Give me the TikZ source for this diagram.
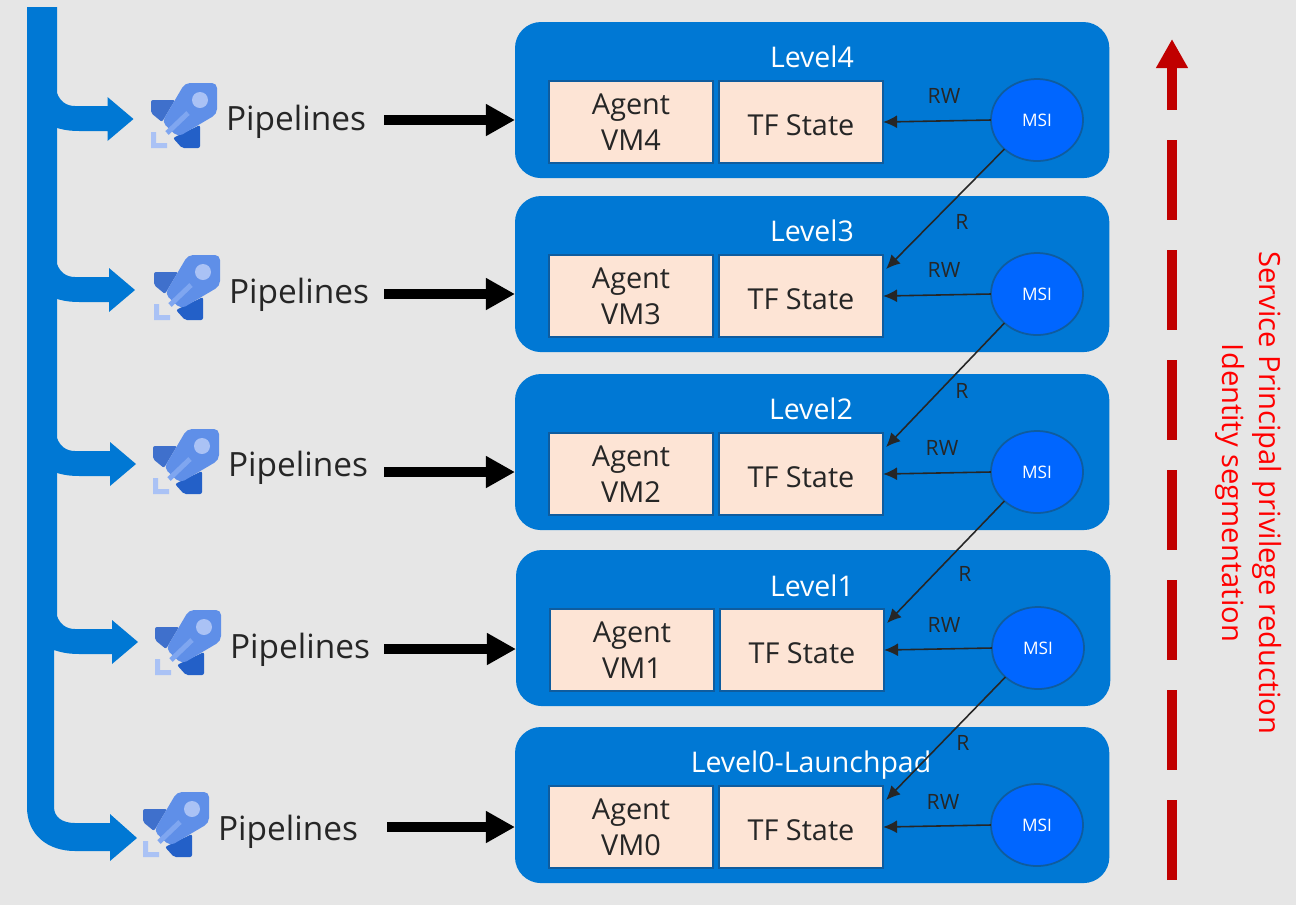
\documentclass[tikz,border=0pt]{standalone}
\usepackage{fontspec}
\setmainfont{Open Sans}
\usepackage{xcolor}
\usetikzlibrary{arrows.meta,shapes.geometric}

\definecolor{pagegray}{HTML}{E6E6E6}
\definecolor{azureblue}{HTML}{0078D4}
\definecolor{msiblue}{HTML}{0066FF}
\definecolor{edgeblue}{HTML}{0F5C9E}
\definecolor{agentfill}{HTML}{FDE4D5}
\definecolor{darkred}{HTML}{C00000}
\definecolor{rocketmid}{HTML}{3F70CC}
\definecolor{rocketdark}{HTML}{2360C8}
\definecolor{rocketbody}{HTML}{5F8FE8}
\definecolor{rocketlight}{HTML}{AAC2F5}
\definecolor{rocketstripe}{HTML}{7FA6F0}

\tikzset{
  levelbox/.style={fill=azureblue,rounded corners=0.26cm,outer sep=0pt,minimum width=5.94cm,minimum height=1.56cm,anchor=north west},
  vmbox/.style={draw=edgeblue,line width=0.5pt,fill=agentfill,outer sep=0pt,minimum width=1.64cm,minimum height=0.82cm,anchor=north west,align=center,text=black!85,font=\fontsize{8.2pt}{10.3pt}\selectfont},
  msinode/.style={ellipse,draw=edgeblue,line width=0.5pt,fill=msiblue,outer sep=0pt,minimum width=0.92cm,minimum height=0.82cm,inner sep=0pt,text=white,font=\fontsize{4.9pt}{5pt}\selectfont},
  accessarrow/.style={-{Latex[length=0.14cm,width=0.13cm]},line width=0.45pt,black!85},
  accesslabel/.style={text=black!85,font=\fontsize{6pt}{6.5pt}\selectfont},
  flowarrow/.style={-{Triangle[length=0.29cm,width=0.3cm]},line width=0.1cm,black},
  rocketicon/.pic={
    \fill[rocketmid,rounded corners=0.02cm] (0,16) -- (24,16) -- (11,38) -- (0,29) -- cycle;
    \fill[rocketdark,rounded corners=0.02cm] (49,41) -- (49,64) -- (31,64) -- (22,54) -- cycle;
    \fill[rocketbody,rounded corners=0.05cm] (34,-1) -- (66,-1) -- (66,30) -- (27,53) -- (11,38) -- cycle;
    \fill[rocketlight] (49,16) circle (8);
    \draw[rocketstripe,line width=0.05cm] (37,29) -- (16,49);
    \fill[rocketlight] (0,48) -- (5,48) -- (5,59) -- (16,59) -- (16,64) -- (0,64) -- cycle;
  }
}

\begin{document}
\begin{tikzpicture}[x=0.01cm,y=-0.01cm]
  \useasboundingbox[fill=pagegray] (0,0) rectangle (1296,905);
  % trunk and bottom bend
  \fill[azureblue] (27,7) -- (57,7) -- (57,650) -- (54,650) -- (54,807)
    .. controls (54,817) and (62,823) .. (75,823) -- (110,823) -- (110,814) -- (137,838) -- (110,861) -- (110,851) -- (75,851)
    .. controls (48,851) and (27,835) .. (27,807) -- cycle;
  % branches to the upper pipelines
  \foreach \ay/\tipx in {119/133.5,290/135,464/136,642/138}
    \fill[azureblue] (50,\ay-32) -- (57,\ay-26) .. controls (60,\ay-18) and (66,\ay-13) .. (75,\ay-13)
      -- (\tipx-26,\ay-13) -- (\tipx-26,\ay-22) -- (\tipx,\ay) -- (\tipx-26,\ay+22) -- (\tipx-26,\ay+12)
      -- (80,\ay+12) .. controls (70,\ay+12) and (63,\ay+11) .. (54,\ay+8) -- (50,\ay+8) -- cycle;

  \foreach \n/\bx/\by/\title/\lx/\ly/\rwx/\rwy in {
      4/515/22/Level4/812/57/944/96,
      3/515/196/Level3/812/231/944/270,
      2/515/374/Level2/811/409/942/448,
      1/516/550/Level1/812/586/944/625,
      0/515/727/Level0-Launchpad/811/762/943/802} {
    \node[levelbox] (level\n) at (\bx,\by) {};
    \node[text=white,text depth=0pt,font=\fontsize{8.1pt}{9pt}\selectfont] (title\n) at (\lx,\ly) {\title};
    \node[vmbox] (agent\n) at (\bx+34,\by+59) {Agent\\VM\n};
    \node[vmbox,text height=7.6pt,text depth=0pt] (tf\n) at (\bx+204,\by+59) {TF State};
    \node[msinode] (msi\n) at (\bx+522,\by+98) {MSI};
    \draw[accessarrow] (msi\n.west) -- (tf\n.east);
    \node[accesslabel] (rw\n) at (\rwx,\rwy) {RW};
  }

  % read access goes down one level
  \foreach \n/\m/\rx/\ry in {4/3/962/222,3/2/962/391,2/1/965/574,1/0/963/743} {
    \draw[accessarrow] (msi\n.south west) -- ([shift={(3,14)}]tf\m.north east);
    \node[accesslabel] (r\n) at (\rx,\ry) {R};
  }

  % pipelines on the left
  \foreach \n/\ix/\iy/\tx/\ty/\sx/\sy in {
      4/151/84/296/122/384/120,
      3/154/256/299/295/384/294,
      2/153/430/298/468/384/472,
      1/155/611/300/650/384/649,
      0/143/793/288/832/387/827} {
    \pic at (\ix,\iy) {rocketicon};
    \node[text=black!85,font=\fontsize{9.5pt}{11pt}\selectfont] (pipe\n) at (\tx,\ty) {Pipelines};
    \coordinate (start\n) at (\sx,\sy);
    \draw[flowarrow] (start\n) -- (start\n -| level\n.west);
  }

  % privilege arrow
  \coordinate (redbottom) at (1172,880);
  \coordinate (redtop) at (1172,39);
  \draw[-{Triangle[length=0.29cm,width=0.3cm]},darkred,line width=0.1cm,dash pattern=on 0.8cm off 0.3cm] (redbottom) -- (redtop);
  \node[rotate=-90,align=center,text=red,font=\fontsize{8.3pt}{10.5pt}\selectfont] (privtext) at (1249,493) {Service Principal privilege reduction\\Identity segmentation};
\end{tikzpicture}
\end{document}
